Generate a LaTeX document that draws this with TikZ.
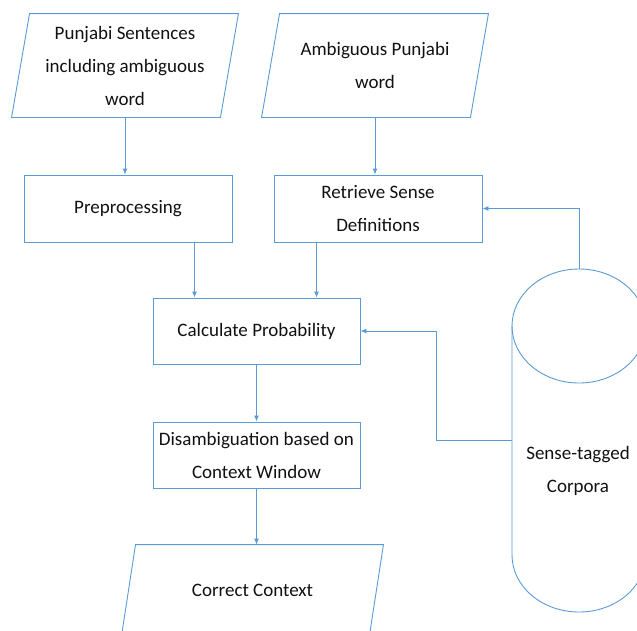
\documentclass[tikz,border=0pt]{standalone}
\usepackage{fontspec}
\setmainfont{Carlito}
\usepackage{tikz}
\usetikzlibrary{arrows.meta,calc}
\definecolor{ln}{HTML}{5B9BD5}
\definecolor{tx}{HTML}{111111}

\tikzset{
  line/.style={draw=ln, line width=0.9pt},
  arr/.style={line, -{Latex[length=6pt,width=5pt]}},
  box/.style={line, inner sep=0pt, align=center, text=tx,
    font=\fontsize{19}{33}\selectfont},
  para/.style={box, draw=none},
}

\begin{document}
\begin{tikzpicture}[x=1pt,y=1pt]
            \useasboundingbox (0,0) rectangle (637,-630);
            \clip (0,0) rectangle (637,-630);
            % inputs
            \node[para, minimum width=208pt, minimum height=103pt] (p1) at (125,-65.5) {Punjabi Sentences\\including ambiguous\\word};
            \node[para, minimum width=208pt, minimum height=103pt] (p2) at (375,-65.5) {Ambiguous Punjabi\\word};
            % steps
            \node[box, minimum width=208pt, minimum height=67pt] (pre) at (128,-208.5) {Preprocessing};
            \node[box, minimum width=208pt, minimum height=67pt] (ret) at (378,-208.5) {Retrieve Sense\\Definitions};
            \node[box, minimum width=207pt, minimum height=66pt] (calc) at (256.5,-331) {Calculate Probability};
            \node[box, minimum width=207pt, minimum height=66pt] (dis) at (256.5,-455) {Disambiguation based on\\Context Window};
            \node[para, minimum width=247pt, minimum height=90pt] (cc) at (252.5,-590) {Correct Context};
            \foreach \n/\s in {p1/9,p2/9,cc/7}
              \draw[line] ($(\n.north west)+(\s,0)$) -- ($(\n.north east)+(\s,0)$) -- ($(\n.south east)-(\s,0)$) -- ($(\n.south west)-(\s,0)$) -- cycle;
            % corpora
            \draw[line] (579,-326) ellipse [x radius=67pt, y radius=57pt];
            \draw[line] (512,-326) -- (512,-555) arc[start angle=180, end angle=360, x radius=67pt, y radius=57pt] -- (646,-326);
            \node[para] (corp) at (578,-471) {Sense-tagged\\Corpora};
            \coordinate (cyltop) at (579,-269);
            \coordinate (cylside) at (512,-440);
            % flow
            \draw[arr] (p1.south) -- (pre.north -| p1.south);
            \draw[arr] (p2.south) -- (ret.north -| p2.south);
            \coordinate (a1) at ([xshift=42pt]calc.north west);
            \coordinate (a2) at ([xshift=164pt]calc.north west);
            \draw[arr] (pre.south -| a1) -- (a1);
            \draw[arr] (ret.south -| a2) -- (a2);
            \draw[arr] (calc.south) -- (dis.north);
            \draw[arr] (dis.south) -- (dis.south |- cc.north);
            \draw[arr] (cyltop) |- (ret.east);
            \draw[arr] (cylside) -- ++(-76,0) |- (calc.east);
          \end{tikzpicture}
\end{document}
